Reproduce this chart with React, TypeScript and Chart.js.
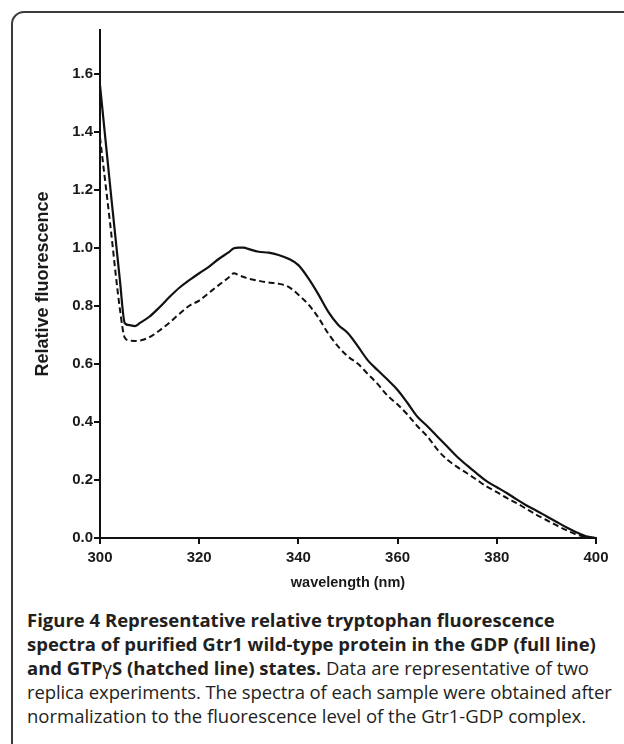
import React, { useEffect, useRef } from "react";
import { Chart, registerables } from "chart.js";

Chart.register(...registerables);

const wavelengths = [
  300, 302, 304, 305, 306, 307, 308, 310, 312, 314, 316, 318, 320, 322, 324, 326, 327, 328, 329, 330,
  332, 334, 336, 338, 340, 342, 344, 346, 348, 350, 352, 354, 356, 358, 360, 362, 364, 366, 368, 370,
  372, 374, 376, 378, 380, 382, 384, 386, 388, 390, 392, 394, 396, 398, 400,
];

const gdpFull = [
  1.56, 1.22, 0.89, 0.74, 0.733, 0.73, 0.74, 0.763, 0.795, 0.83, 0.862, 0.888, 0.912, 0.935, 0.962, 0.985, 0.998, 1.0, 1.0, 0.995,
  0.986, 0.983, 0.975, 0.962, 0.94, 0.895, 0.84, 0.78, 0.735, 0.705, 0.66, 0.612, 0.578, 0.545, 0.51, 0.465, 0.418, 0.385, 0.35, 0.315,
  0.28, 0.25, 0.222, 0.195, 0.175, 0.155, 0.133, 0.112, 0.094, 0.075, 0.056, 0.037, 0.02, 0.006, 0.0,
];

const gtpHatched = [
  1.38, 1.09, 0.79, 0.69, 0.68, 0.679, 0.68, 0.692, 0.715, 0.742, 0.772, 0.8, 0.818, 0.845, 0.872, 0.898, 0.912, 0.905, 0.899, 0.893,
  0.886, 0.88, 0.876, 0.865, 0.838, 0.805, 0.76, 0.705, 0.66, 0.625, 0.6, 0.565, 0.53, 0.49, 0.46, 0.425, 0.385, 0.35, 0.305, 0.27,
  0.245, 0.223, 0.2, 0.177, 0.158, 0.138, 0.12, 0.1, 0.08, 0.062, 0.044, 0.027, 0.012, 0.003, 0.0,
];

const xTicks = [300, 320, 340, 360, 380, 400];
const yTicks = [0, 0.2, 0.4, 0.6, 0.8, 1.0, 1.2, 1.4, 1.6];

const xTitle = "wavelength (nm)";
const yTitle = "Relative fluorescence";

const tickFamily = "'Liberation Sans', Arial, sans-serif";
const titleFamily = "'Liberation Sans', Arial, sans-serif";

export default function App() {
  const ref = useRef<HTMLCanvasElement | null>(null);

  useEffect(() => {
    if (!ref.current) return;
    const axisGrid = {
      display: true,
      drawOnChartArea: false,
      drawTicks: true,
      tickLength: 6,
      color: "#111",
      lineWidth: 2,
    };
    const axisBorder = { display: true, color: "#111", width: 2 };
    const chart = new Chart(ref.current, {
      type: "line",
      data: {
        datasets: [
          {
            label: "GDP (full line)",
            data: wavelengths.map((x, i) => ({ x, y: gdpFull[i] })),
            borderColor: "#111",
            borderWidth: 2.2,
            pointRadius: 0,
            cubicInterpolationMode: "monotone",
            fill: false,
          },
          {
            label: "GTPγS (hatched line)",
            data: wavelengths.map((x, i) => ({ x, y: gtpHatched[i] })),
            borderColor: "#111",
            borderWidth: 2,
            borderDash: [6, 3.5],
            pointRadius: 0,
            cubicInterpolationMode: "monotone",
            fill: false,
          },
        ],
      },
      options: {
        responsive: false,
        animation: false,
        events: [],
        layout: { padding: { top: 30, right: 28, left: 0, bottom: 0 } },
        plugins: { legend: { display: false }, tooltip: { enabled: false } },
        scales: {
          x: {
            type: "linear",
            min: 300,
            max: 400,
            afterBuildTicks: (s: any) => {
              s.ticks = xTicks.map((v) => ({ value: v }));
            },
            afterFit: (s: any) => {
              s.height = 62;
            },
            ticks: {
              font: { family: tickFamily, size: 15, weight: "bold" },
              color: "#1a1a1a",
              padding: 5,
              maxRotation: 0,
              callback: (v: any) => String(v),
            },
            grid: axisGrid,
            border: axisBorder,
            title: {
              display: true,
              text: xTitle,
              font: { family: titleFamily, size: 14.5, weight: "bold" },
              color: "#1a1a1a",
              padding: { top: 0, bottom: 8.3 },
            },
          },
          y: {
            type: "linear",
            min: 0,
            max: 1.75,
            afterBuildTicks: (s: any) => {
              s.ticks = yTicks.map((v) => ({ value: v }));
            },
            afterFit: (s: any) => {
              s.width = 100;
            },
            ticks: {
              font: { family: tickFamily, size: 15, weight: "bold" },
              color: "#1a1a1a",
              padding: 1,
              callback: (v: any) => Number(v).toFixed(1),
            },
            grid: axisGrid,
            border: axisBorder,
            title: {
              display: true,
              text: yTitle,
              font: { family: titleFamily, size: 18, weight: "bold" },
              color: "#1a1a1a",
              padding: { top: 32, bottom: 0 },
            },
          },
        },
      },
    } as any);
    return () => chart.destroy();
  }, []);

  return (
    <div style={{ position: "absolute", left: 0, top: 0, width: 624, height: 744, overflow: "hidden", background: "#fff" }}>
      <div
        style={{
          position: "absolute",
          left: 11,
          top: 11,
          width: 640,
          height: 800,
          border: "2px solid #3a3a3a",
          borderRadius: 13,
          boxSizing: "border-box",
        }}
      />
      <canvas ref={ref} width={624} height={600} style={{ position: "absolute", left: 0, top: 0, width: 624, height: 600 }} />
      <div
        style={{
          position: "absolute",
          left: 27,
          top: 608,
          fontFamily: "'Open Sans', 'Noto Sans', sans-serif",
          fontSize: 18.5,
          lineHeight: "24px",
          color: "#231f20",
          whiteSpace: "nowrap",
        }}
      >
        <b>Figure 4 Representative relative tryptophan fluorescence</b>
        <br />
        <b>spectra of purified Gtr1 wild-type protein in the GDP (full line)</b>
        <br />
        <b>
          and GTP<span style={{ fontWeight: 400 }}>γ</span>S (hatched line) states.
        </b>{" "}
        Data are representative of two
        <br />
        <span style={{ letterSpacing: "-0.1px" }}>replica experiments. The spectra of each sample were obtained after</span>
        <br />
        normalization to the fluorescence level of the Gtr1-GDP complex.
      </div>
    </div>
  );
}
